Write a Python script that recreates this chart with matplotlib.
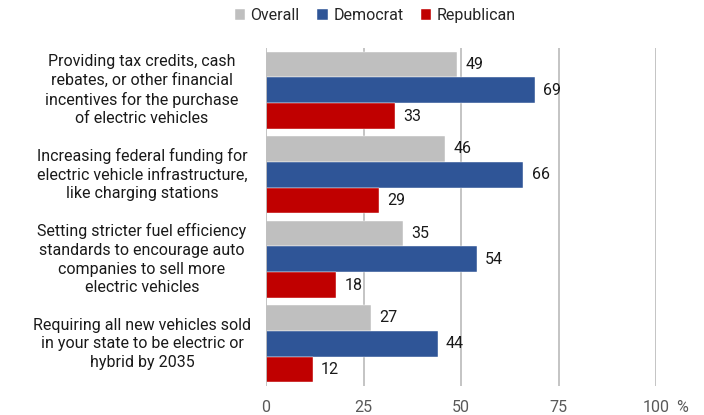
import matplotlib.pyplot as plt
import matplotlib.transforms as mtransforms
import numpy as np

plt.rcParams['font.family'] = ['Roboto', 'DejaVu Sans']

categories = [
    "Providing tax credits, cash\nrebates, or other financial\nincentives for the purchase\nof electric vehicles",
    "Increasing federal funding for\nelectric vehicle infrastructure,\nlike charging stations",
    "Setting stricter fuel efficiency\nstandards to encourage auto\ncompanies to sell more\nelectric vehicles",
    "Requiring all new vehicles sold\nin your state to be electric or\nhybrid by 2035",
]
series_names = ["Overall", "Democrat", "Republican"]
overall = [49, 46, 35, 27]
democrat = [69, 66, 54, 44]
republican = [33, 29, 18, 12]
x_ticks = [0, 25, 50, 75, 100]

colors = ["#BFBFBF", "#2F5597", "#C00000"]


def draw_chart():
    fig = plt.figure(figsize=(7.04, 4.15), dpi=100)
    ax = fig.add_axes([266 / 704, 1 - 386 / 415, 390 / 704, 338 / 415])

    bar_h = 0.305
    y = np.arange(len(categories))
    for i, (name, vals) in enumerate(zip(series_names, [overall, democrat, republican])):
        pos = y + (i - 1) * bar_h
        ax.barh(pos, vals, height=bar_h, color=colors[i], label=name,
                edgecolor='white', linewidth=0.3, zorder=3)
        for p, v in zip(pos, vals):
            ax.annotate(str(v), xy=(v, p), xytext=(6, 0), textcoords='offset points',
                        ha='left', va='center', fontsize=11.5, color='#1a1a1a')

    ax.set_ylim(len(categories) - 0.5, -0.5)
    ax.set_xlim(0, 100)
    ax.set_xticks(x_ticks)
    ax.set_xticklabels([str(t) for t in x_ticks])
    ax.tick_params(axis='x', length=0, pad=10, labelsize=11.5, labelcolor='#595959')
    ax.set_yticks([])
    for t in x_ticks[1:]:
        ax.axvline(t, color='#BFBFBF', lw=1.3, zorder=1)
    ax.axvline(0, color='#BFBFBF', lw=1.3, zorder=4)
    for s in ax.spines.values():
        s.set_visible(False)

    # percent sign after the last tick
    ax.annotate('%', xy=(100, 0), xycoords=('data', 'axes fraction'),
                xytext=(19, -10), textcoords='offset points',
                ha='center', va='top', fontsize=11.5, color='#595959')

    # category labels, centred in the left margin
    trans = mtransforms.blended_transform_factory(fig.transFigure, ax.transData)
    for yy, label in zip(y, categories):
        ax.text(142 / 704, yy, label, transform=trans, ha='center', va='center',
                fontsize=11.5, color='#1a1a1a', linespacing=1.3)

    fig.legend(loc='center', bbox_to_anchor=(0.533, 0.963), ncol=3, frameon=False,
               fontsize=11.5, handlelength=0.65, handleheight=0.65, handletextpad=0.35,
               columnspacing=1.1, labelcolor='#262626')

    fig.savefig('out.png', dpi=100)


if __name__ == "__main__":
    draw_chart()
